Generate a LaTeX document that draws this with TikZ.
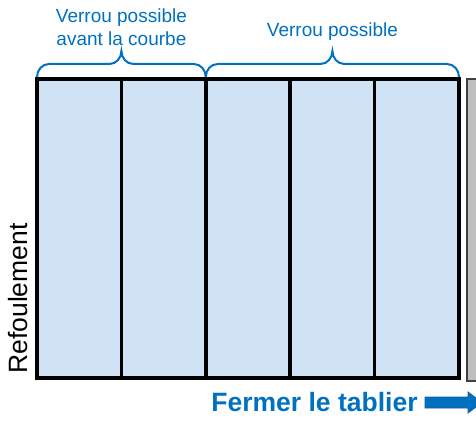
\documentclass[tikz,border=0pt]{standalone}
\usepackage{fontspec}
\setmainfont{Liberation Sans}
\definecolor{LockBlue}{HTML}{0070C0}
\definecolor{PanelFill}{HTML}{CFE3F4}
\definecolor{DeckGray}{HTML}{BFBFBF}
\definecolor{DeckEdge}{HTML}{404040}
\definecolor{ArrowEdge}{HTML}{1F5C99}

\begin{document}
\begin{tikzpicture}[x=1pt, y=1pt,
    lockbrace/.style={LockBlue, line width=2pt},
    locktext/.style={LockBlue, font=\fontsize{19}{23}\selectfont, align=center}]
  \useasboundingbox (0,0) rectangle (476,420);

  % Gray deck on the right
  \draw[DeckEdge, fill=DeckGray, line width=1.2pt] (467,39) rectangle (482,341);

  % Panels
  \fill[PanelFill] (37,42) rectangle (459,341);
  \foreach \x in {121.4, 205.8, 290.2, 374.6} {
    \draw[line width=3.6pt] (\x,42) -- (\x,341);
  }
  \draw[line width=3.6pt] (37,42) rectangle (459,341);

  % Braces
  \foreach \a/\m/\b in {37/121.4/205.8, 205.8/332.4/459} {
    \draw[lockbrace] (\a,343) to[out=90, in=180] (\a+12,356) -- (\m-12,356)
      to[out=0, in=-90] (\m,369) to[out=-90, in=180] (\m+12,356) -- (\b-12,356)
      to[out=0, in=90] (\b,343);
  }

  % Brace labels
  \node[locktext] (early) at (121.4,393) {Verrou possible\\avant la courbe};
  \node[locktext] (lock) at (332.4,388) {Verrou possible};

  % Side label
  \node[font=\fontsize{26.5}{30}\selectfont, rotate=90] (push) at (18.5,121.5) {Refoulement};

  % Closing direction
  \node[LockBlue, font=\bfseries\fontsize{26.5}{30}\selectfont, inner sep=0pt] (close) at (314.5,18) {Fermer le tablier};
  \draw[ArrowEdge, fill=LockBlue, line width=0.8pt]
    (425,23) -- (468,23) -- (468,28) -- (482,17.5) -- (468,7) -- (468,12) -- (425,12) -- cycle;
\end{tikzpicture}
\end{document}
